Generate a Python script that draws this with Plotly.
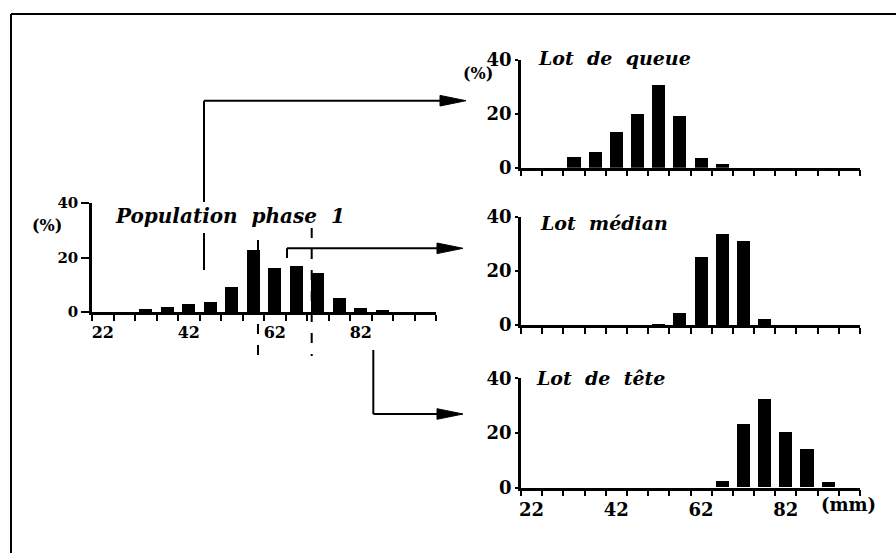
import plotly.graph_objects as go

# Size classes (mm, class centres) and percentage of individuals per class
length_mm = [22, 27, 32, 37, 42, 47, 52, 57, 62, 67, 72, 77, 82, 87, 92, 97]
population = [0, 0, 1.0, 1.7, 3.0, 3.8, 9.0, 22.9, 16.2, 17.0, 14.2, 5.0, 1.5, 0.6, 0, 0]
lot_queue = [0, 0, 4.1, 5.7, 13.1, 19.9, 30.7, 19.1, 3.7, 1.2, 0, 0, 0, 0, 0, 0]
lot_median = [0, 0, 0, 0, 0, 0, 0.4, 4.7, 25.2, 33.6, 31.1, 2.2, 0, 0, 0, 0]
lot_tete = [0, 0, 0, 0, 0, 0, 0, 0, 0, 2.4, 23.3, 32.3, 20.1, 14.1, 2.0, 0]

class_edges = [19.5 + 5 * k for k in range(17)]
x_tick_vals = [22, 42, 62, 82]
x_tick_text = ["22", "42", "62", "82"]
y_tick_vals = [0, 20, 40]
y_tick_text = ["0", "20", "40"]

titles = ["Population  phase  1", "Lot  de  queue", "Lot  médian", "Lot  de  tête"]
series = [population, lot_queue, lot_median, lot_tete]

W, H = 896, 553


def px(x):
    return x / W


def py(y):
    return 1 - y / H


# panel placement in pixels: (x_left, x_right, y_zero, y_forty)
panels = [
    (92, 436, 312, 203),
    (521, 860, 167.7, 60),
    (521, 860, 325, 216.7),
    (521, 860, 487.7, 378.3),
]
show_x_labels = [True, False, False, True]
y_font_size = [15, 18, 18, 18]
x_font_size = [16, 18, 18, 18]
y_tick_len = [8, 3, 3, 3]
title_size = [20, 19, 19, 19]


def serif(size, bold=True):
    return dict(family="DejaVu Serif", size=size, color="black",
                weight="bold" if bold else "normal")


fig = go.Figure()
layout = dict(
    template="none",
    width=W,
    height=H,
    margin=dict(l=0, r=0, t=0, b=0, pad=0, autoexpand=False),
    paper_bgcolor="white",
    plot_bgcolor="rgba(0,0,0,0)",
    showlegend=False,
    bargap=0,
)

for i, (vals, (xl, xr, y0, y40)) in enumerate(zip(series, panels)):
    n = "" if i == 0 else str(i + 1)
    fig.add_trace(
        go.Bar(
            x=length_mm,
            y=vals,
            width=3.1,
            marker=dict(color="black", line=dict(width=0)),
            xaxis="x" + n,
            yaxis="y" + n,
        )
    )
    layout["xaxis" + n] = dict(
        domain=[px(xl), px(xr)],
        range=[19.5, 99.5],
        anchor="y" + n,
        automargin=False,
        showgrid=False,
        zeroline=False,
        showline=True,
        linecolor="black",
        linewidth=2.5,
        tickmode="array",
        tickvals=x_tick_vals,
        ticktext=x_tick_text,
        ticks="",
        showticklabels=show_x_labels[i],
        ticklabelstandoff=4,
        tickfont=serif(x_font_size[i]),
        minor=dict(
            tickmode="array",
            tickvals=class_edges,
            ticks="outside",
            ticklen=6,
            tickwidth=2,
            tickcolor="black",
            showgrid=False,
        ),
        fixedrange=True,
    )
    layout["yaxis" + n] = dict(
        domain=[py(y0), py(y40)],
        range=[0, 40],
        anchor="x" + n,
        automargin=False,
        showgrid=False,
        zeroline=False,
        showline=True,
        linecolor="black",
        linewidth=2.5,
        tickmode="array",
        tickvals=y_tick_vals,
        ticktext=y_tick_text,
        ticks="outside",
        ticklen=y_tick_len[i],
        tickwidth=2,
        tickcolor="black",
        tickfont=serif(y_font_size[i]),
        ticklabelstandoff=0,
        fixedrange=True,
    )

fig.update_layout(**layout)

# Panel titles
title_pos = [(230, 216), (614, 58), (604, 223), (600, 378)]
for text, (tx, ty), fs in zip(titles, title_pos, title_size):
    fig.add_annotation(
        x=px(tx), y=py(ty), xref="paper", yref="paper",
        text="<b><i>" + text + "</i></b>", showarrow=False,
        font=serif(fs, bold=False), xanchor="center", yanchor="middle",
    )

# Unit labels
for text, (tx, ty), fs in [("(%)", (47, 225), 16), ("(%)", (478, 73), 16), ("(mm)", (848, 504), 18)]:
    fig.add_annotation(
        x=px(tx), y=py(ty), xref="paper", yref="paper",
        text=text, showarrow=False,
        font=serif(fs), xanchor="center", yanchor="middle",
    )

LINE = dict(color="black", width=2)
shapes = []


def seg(x0, y0, x1, y1, line=LINE):
    shapes.append(dict(type="line", xref="paper", yref="paper",
                       x0=px(x0), y0=py(y0), x1=px(x1), y1=py(y1), line=line))


def head(tip_x, tip_y, length=26, half=5.3):
    path = "M {} {} L {} {} L {} {} Z".format(
        px(tip_x - length), py(tip_y - half),
        px(tip_x), py(tip_y),
        px(tip_x - length), py(tip_y + half),
    )
    shapes.append(dict(type="path", xref="paper", yref="paper", path=path,
                       fillcolor="black", line=dict(color="black", width=1)))


# Frame
seg(11, 14, 896, 14)
seg(11, 14, 11, 553)

# Arrow to the tail batch
seg(204, 270, 204, 233)
seg(204, 202, 204, 100.7)
seg(204, 100.7, 442, 100.7)
head(466, 100.7)

# Arrow to the median batch
seg(287, 258, 287, 248.3)
seg(287, 248.3, 440, 248.3)
head(463, 248.3)

# Arrow to the head batch
seg(373.3, 350, 373.3, 414)
seg(373.3, 414, 440, 414)
head(463, 414)

# Dashed cut-off lines across the population histogram
DASH = dict(color="black", width=2, dash="10px,11px")
seg(258, 240, 258, 356, DASH)
seg(311.7, 228, 311.7, 356, DASH)

fig.update_layout(shapes=shapes)

fig.write_html("out.html")
